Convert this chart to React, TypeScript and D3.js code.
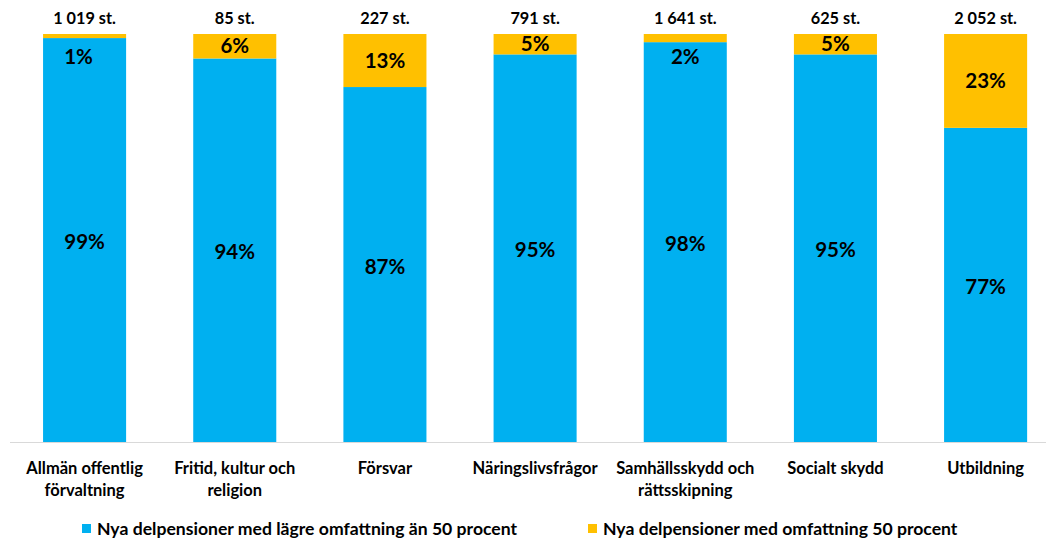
import React from "react";
import * as d3 from "d3";

const categories = [
  ["Allmän offentlig", "förvaltning"],
  ["Fritid, kultur och", "religion"],
  ["Försvar"],
  ["Näringslivsfrågor"],
  ["Samhällsskydd och", "rättsskipning"],
  ["Socialt skydd"],
  ["Utbildning"],
];
const totals = ["1 019 st.", "85 st.", "227 st.", "791 st.", "1 641 st.", "625 st.", "2 052 st."];
const lower = [99, 94, 87, 95, 98, 95, 77];
const full = [1, 6, 13, 5, 2, 5, 23];
const seriesNames = [
  "Nya delpensioner med lägre omfattning än 50 procent",
  "Nya delpensioner med omfattning 50 procent",
];
const colors = ["#00B0F0", "#FFC000"];

const W = 1046;
const H = 539;
const FONT = "Lato, 'Open Sans', sans-serif";

export default function App() {
  const x = d3
    .scaleBand<number>()
    .domain(d3.range(categories.length))
    .range([9.5, 9.5 + 150.17 * 7])
    .paddingInner(0.447)
    .paddingOuter(0.2235);
  const y = d3.scaleLinear().domain([0, 100]).range([442, 34]);

  return (
    <svg
      width={W}
      height={H}
      style={{ position: "absolute", left: 0, top: 0, background: "#fff" }}
      fontFamily={FONT}
    >
      <line x1={10} x2={W} y1={442.5} y2={442.5} stroke="#d9d9d9" strokeWidth={1.2} />
      {categories.map((cat, i) => {
        const x0 = x(i)!;
        const bw = x.bandwidth();
        const cx = x0 + bw / 2;
        const lTop = y(lower[i]);
        const fTop = y(lower[i] + full[i]);
        const fMid = (lTop + fTop) / 2;
        const small = lTop - fTop < 15;
        return (
          <g key={i}>
            <rect x={x0} y={lTop} width={bw} height={y(0) - lTop} fill={colors[0]} />
            <rect x={x0} y={fTop} width={bw} height={lTop - fTop} fill={colors[1]} />
            <text
              x={cx}
              y={(lTop + y(0)) / 2 + 2}
              dy="0.35em"
              textAnchor="middle"
              fontWeight="bold"
              fontSize={20.5}
              fill="#000"
            >
              {lower[i]}%
            </text>
            <text
              x={small && i === 0 ? cx - 6 : cx}
              y={small ? 57 : fMid}
              dy="0.35em"
              textAnchor="middle"
              fontWeight="bold"
              fontSize={20.5}
              fill="#000"
            >
              {full[i]}%
            </text>
            <text
              x={cx}
              y={18}
              dy="0.35em"
              textAnchor="middle"
              fontWeight="bold"
              fontSize={16.3}
              fill="#000"
            >
              {totals[i]}
            </text>
            {cat.map((line, j) => (
              <text
                key={j}
                x={cx}
                y={468 + j * 22}
                dy="0.35em"
                textAnchor="middle"
                fontWeight="bold"
                fontSize={16.5}
                fill="#000"
              >
                {line}
              </text>
            ))}
          </g>
        );
      })}
      {seriesNames.map((name, k) => {
        const lx = k === 0 ? 82 : 588;
        return (
          <g key={k}>
            <rect x={lx} y={524} width={9} height={9} fill={colors[k]} />
            <text
              x={lx + 15}
              y={529}
              dy="0.35em"
              fontWeight="bold"
              fontSize={17.6}
              fill="#000"
            >
              {name}
            </text>
          </g>
        );
      })}
    </svg>
  );
}
